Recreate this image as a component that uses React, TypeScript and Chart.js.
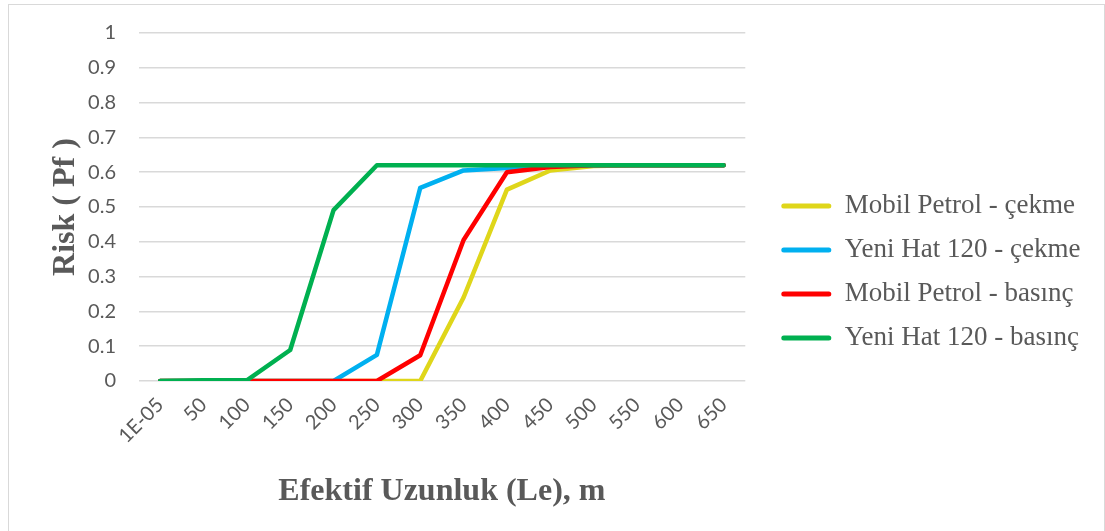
import React, { useEffect, useRef } from "react";
import { Chart, registerables } from "chart.js";

Chart.register(...registerables);

const categories = ["1E-05", "50", "100", "150", "200", "250", "300", "350", "400", "450", "500", "550", "600", "650"];
const mobilPetrolCekme = [0, 0, 0, 0, 0, 0, 0, 0.24, 0.55, 0.605, 0.618, 0.62, 0.62, 0.62];
const yeniHatCekme = [0, 0, 0, 0, 0, 0.075, 0.555, 0.605, 0.612, 0.618, 0.62, 0.62, 0.62, 0.62];
const mobilPetrolBasinc = [0, 0, 0, 0, 0, 0, 0.074, 0.405, 0.6, 0.615, 0.62, 0.62, 0.62, 0.62];
const yeniHatBasinc = [0, 0.002, 0.002, 0.089, 0.491, 0.62, 0.62, 0.62, 0.62, 0.62, 0.62, 0.62, 0.62, 0.62];
const yTickLabels = ["0", "0.1", "0.2", "0.3", "0.4", "0.5", "0.6", "0.7", "0.8", "0.9", "1"];

const seriesNames = ["Mobil Petrol - çekme", "Yeni Hat 120 - çekme", "Mobil Petrol - basınç", "Yeni Hat 120 - basınç"];
const seriesColors = ["#DFD61A", "#00B0F0", "#FF0000", "#00B050"];
const seriesValues = [mobilPetrolCekme, yeniHatCekme, mobilPetrolBasinc, yeniHatBasinc];

const textColor = "#595959";
const gridColor = "#D9D9D9";

export default function App() {
  const ref = useRef<HTMLCanvasElement | null>(null);

  useEffect(() => {
    document.body.style.overflow = "hidden";
    const canvas = ref.current;
    if (!canvas) return;
    const chart = new Chart(canvas, {
      type: "line",
      data: {
        labels: categories,
        datasets: seriesValues.map((vals, i) => ({
          label: seriesNames[i],
          data: vals,
          borderColor: seriesColors[i],
          backgroundColor: seriesColors[i],
          borderWidth: 4.5,
          pointRadius: 0,
          pointHoverRadius: 0,
          tension: 0,
          fill: false,
          borderJoinStyle: "round" as const,
          borderCapStyle: "round" as const,
          order: seriesValues.length - i,
          yAxisID: "y",
        })),
      },
      options: {
        responsive: false,
        animation: false,
        layout: { padding: { left: 0, right: 13.5, top: 28, bottom: 20 } },
        plugins: {
          tooltip: { enabled: false },
          legend: {
            position: "right",
            align: "center",
            maxWidth: 420,
            labels: {
              font: { family: '"Liberation Serif", "Times New Roman", serif', size: 27 },
              color: textColor,
              boxWidth: 50,
              boxHeight: 5,
              padding: 17,
              sort: (a: any, b: any) => a.datasetIndex - b.datasetIndex,
              generateLabels: (c: any) =>
                c.data.datasets.map((ds: any, i: number) => ({
                  text: ds.label,
                  fillStyle: ds.borderColor,
                  strokeStyle: ds.borderColor,
                  lineWidth: 0,
                  borderRadius: 2.5,
                  fontColor: textColor,
                  hidden: false,
                  datasetIndex: i,
                })),
            },
          },
        },
        scales: {
          x: {
            type: "category",
            offset: true,
            grid: { display: false },
            border: { display: false },
            ticks: {
              autoSkip: false,
              maxRotation: 45,
              minRotation: 45,
              color: textColor,
              padding: 4,
              font: { family: "Lato, sans-serif", size: 20 },
            },
            title: {
              display: true,
              text: "Efektif Uzunluk (Le), m",
              color: textColor,
              font: { family: '"Liberation Serif", "Times New Roman", serif', size: 32, weight: "bold" },
              padding: { top: 0, bottom: 0 },
            },
            afterFit: (s: any) => {
              s.height = 130;
            },
          },
          y: {
            type: "linear",
            position: "left",
            min: 0,
            max: 1,
            grid: { color: gridColor, lineWidth: 1.5, drawTicks: false },
            border: { display: false },
            ticks: {
              stepSize: 0.1,
              color: textColor,
              padding: 22.5,
              font: { family: "Lato, sans-serif", size: 20 },
              callback: (_v: any, i: number) => yTickLabels[i],
            },
            title: {
              display: true,
              text: "Risk ( Pf )",
              color: textColor,
              font: { family: '"Liberation Serif", "Times New Roman", serif', size: 32, weight: "bold" },
              padding: { top: 38, bottom: 0 },
            },
            afterFit: (s: any) => {
              s.width = 129.5;
              s.paddingTop = 12;
              s.paddingBottom = 12;
            },
          },
          yR: {
            type: "linear",
            position: "right",
            display: true,
            grid: { display: false },
            border: { display: false },
            ticks: { display: false },
            afterFit: (s: any) => {
              s.width = 19;
            },
          },
        },
      },
    });
    return () => chart.destroy();
  }, []);

  return (
    <div
      style={{
        position: "absolute",
        left: 8,
        top: 4,
        width: 1095,
        height: 560,
        border: "1px solid #D9D9D9",
        background: "#fff",
      }}
    >
      <canvas ref={ref} width={1095} height={526} style={{ display: "block", width: 1095, height: 526 }} />
    </div>
  );
}
